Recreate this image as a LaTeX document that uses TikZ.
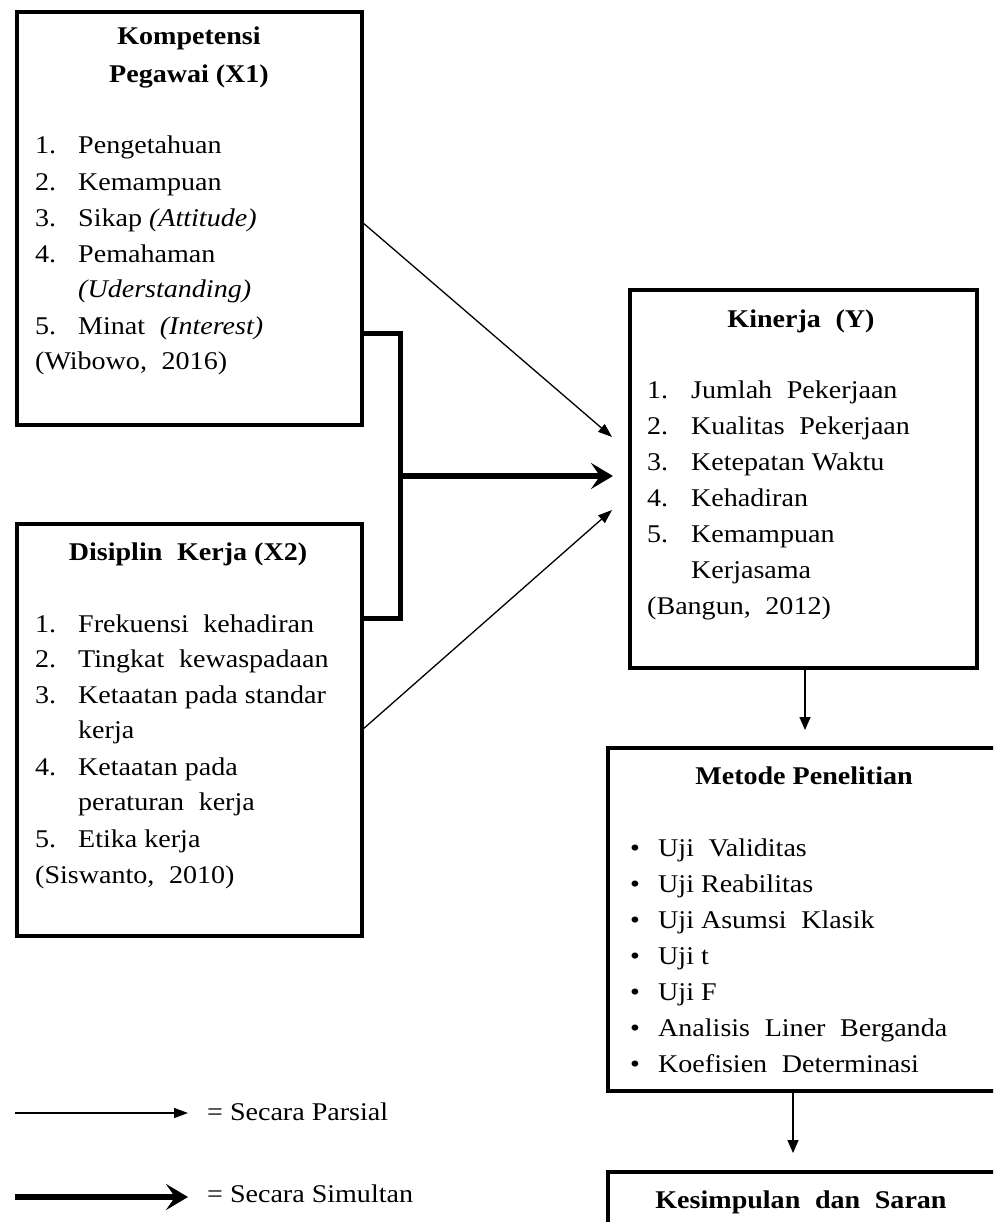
\documentclass[tikz,border=0pt]{standalone}
\usepackage{fontspec}
\setmainfont{Liberation Serif}[FakeStretch=1.1]
\usetikzlibrary{arrows.meta}
\newcommand{\ws}{\hspace{0.3em}}
\begin{document}
\begin{tikzpicture}[x=1pt,y=-1pt,
  box/.style={draw, line width=4.5pt, inner sep=0pt, outer sep=0pt},
  txt/.style={font=\fontsize{25.5}{36}\selectfont, inner sep=0pt, anchor=base west},
  ttl/.style={font=\fontsize{25.5}{36}\selectfont\bfseries, inner sep=0pt, anchor=base},
  thinarr/.style={line width=1.3pt, -{Triangle[length=14pt,width=10pt]}},
  vertarr/.style={line width=1.5pt, -{Triangle[length=13pt,width=11pt]}},
  thickarr/.style={line width=6pt, -{Stealth[length=22pt,width=26pt,inset=9pt]}},
  brk/.style={line width=5pt, line join=miter}]
\clip (0,0) rectangle (993,1222);
\fill[white] (0,0) rectangle (993,1222);

% boxes
\node[box, minimum width=345pt, minimum height=413pt] (x1) at (189.5,218.5) {};
\node[box, minimum width=345pt, minimum height=412pt] (x2) at (189.5,730) {};
\node[box, minimum width=347pt, minimum height=378pt] (ky) at (803.5,479) {};
\node[box, minimum width=402pt, minimum height=343pt] (me) at (809,919.5) {};
\node[box, minimum width=402pt, minimum height=128pt] (ks) at (809,1236) {};

% X1 text
\node[ttl] (x1h1) at (189,45) {Kompetensi};
\node[ttl] (x1h2) at (189,83) {Pegawai (X1)};
\node[txt] (x1n1) at (35,154) {1.};
\node[txt] (x1t1) at (78,154) {Pengetahuan};
\node[txt] (x1n2) at (35,191) {2.};
\node[txt] (x1t2) at (78,191) {Kemampuan};
\node[txt] (x1n3) at (35,227) {3.};
\node[txt] (x1t3) at (78,227) {Sikap \textit{(Attitude)}};
\node[txt] (x1n4) at (35,263) {4.};
\node[txt] (x1t4) at (78,263) {Pemahaman};
\node[txt] (x1t4b) at (78,298) {\textit{(Uderstanding)}};
\node[txt] (x1n5) at (35,334) {5.};
\node[txt] (x1t5) at (78,334) {Minat\ws{} \textit{(Interest)}};
\node[txt] (x1src) at (35,369) {(Wibowo,\ws{} 2016)};

% X2 text
\node[ttl] (x2h) at (188,560) {Disiplin\ws{} Kerja (X2)};
\node[txt] (x2n1) at (35,632) {1.};
\node[txt] (x2t1) at (78,632) {Frekuensi\ws{} kehadiran};
\node[txt] (x2n2) at (35,667) {2.};
\node[txt] (x2t2) at (78,667) {Tingkat\ws{} kewaspadaan};
\node[txt] (x2n3) at (35,703) {3.};
\node[txt] (x2t3) at (78,703) {Ketaatan pada standar};
\node[txt] (x2t3b) at (78,738) {kerja};
\node[txt] (x2n4) at (35,775) {4.};
\node[txt] (x2t4) at (78,775) {Ketaatan pada};
\node[txt] (x2t4b) at (78,810) {peraturan\ws{} kerja};
\node[txt] (x2n5) at (35,847) {5.};
\node[txt] (x2t5) at (78,847) {Etika kerja};
\node[txt] (x2src) at (35,883) {(Siswanto,\ws{} 2010)};

% Kinerja text
\node[ttl] (kyh) at (801,327) {Kinerja\ws{} (Y)};
\node[txt] (kyn1) at (647,398) {1.};
\node[txt] (kyt1) at (691,398) {Jumlah\ws{} Pekerjaan};
\node[txt] (kyn2) at (647,434) {2.};
\node[txt] (kyt2) at (691,434) {Kualitas\ws{} Pekerjaan};
\node[txt] (kyn3) at (647,470) {3.};
\node[txt] (kyt3) at (691,470) {Ketepatan Waktu};
\node[txt] (kyn4) at (647,506) {4.};
\node[txt] (kyt4) at (691,506) {Kehadiran};
\node[txt] (kyn5) at (647,542) {5.};
\node[txt] (kyt5) at (691,542) {Kemampuan};
\node[txt] (kyt5b) at (691,578) {Kerjasama};
\node[txt] (kysrc) at (647,614) {(Bangun,\ws{} 2012)};

% Metode text
\node[ttl] (meh) at (804,784) {Metode Penelitian};
\foreach \t [count=\i] in {Uji\ws{} Validitas, Uji Reabilitas, Uji Asumsi\ws{} Klasik, Uji t, Uji F, Analisis\ws{} Liner\ws{} Berganda, Koefisien\ws{} Determinasi}{
  \node[txt] (meb\i) at (630,{820+36*\i}) {\textbullet};
  \node[txt] (met\i) at (658,{820+36*\i}) {\t};
}

% Kesimpulan text
\node[ttl] (ksh) at (801,1208) {Kesimpulan\ws{} dan\ws{} Saran};

% bracket and simultaneous arrow
\coordinate (bk) at (400,476);
\coordinate (bt) at (613,476);
\draw[brk] (x1.east |- 0,333) -| (bk) |- (x2.east |- 0,618);
\draw[thickarr] (bk) -- (bt);

% partial arrows
\coordinate (p1) at (612,437);
\coordinate (p2) at (612,510);
\draw[thinarr] (x1.east |- 0,222) -- (p1);
\draw[thinarr] (x2.east |- 0,730) -- (p2);

% vertical flow
\draw[vertarr, shorten >=18pt] (ky.south -| 805,0) -- (me.north -| 805,0);
\draw[vertarr, shorten >=19pt] (me.south -| 793,0) -- (ks.north -| 793,0);

% legend
\coordinate (l1a) at (15,1113);
\coordinate (l1b) at (188,1113);
\coordinate (l2a) at (15,1197);
\coordinate (l2b) at (188,1197);
\draw[thinarr] (l1a) -- (l1b);
\draw[thickarr] (l2a) -- (l2b);
\node[txt] (lg1) at (207,1120) {= Secara Parsial};
\node[txt] (lg2) at (207,1202) {= Secara Simultan};
\end{tikzpicture}
\end{document}
